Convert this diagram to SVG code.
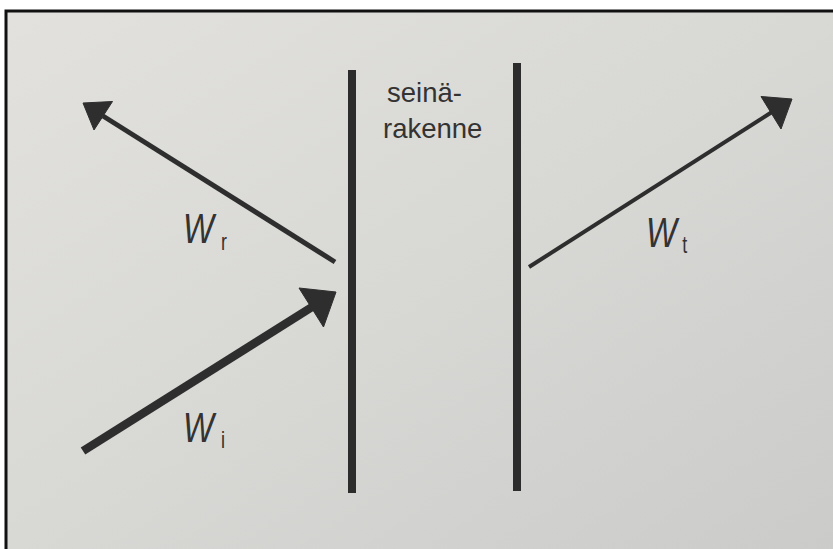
<svg xmlns="http://www.w3.org/2000/svg" width="833" height="549" viewBox="0 0 833 549">
  <defs>
    <linearGradient id="paper" x1="0" y1="0" x2="1" y2="1">
      <stop offset="0" stop-color="#e2e1de"/>
      <stop offset="0.5" stop-color="#d8d8d5"/>
      <stop offset="1" stop-color="#cbcbca"/>
    </linearGradient>
  </defs>
  <style>
    .wall { stroke: #2c2c2c; stroke-width: 8; fill: none; }
    .shaft { stroke: #2e2e2e; fill: none; stroke-linecap: butt; }
    .head { fill: #2e2e2e; stroke: #2e2e2e; stroke-width: 1; stroke-linejoin: round; }
    .lbl { font-family: "Liberation Sans", Arial, sans-serif; fill: #333333; }
    .w { font-size: 42px; font-style: italic; }
    .sub { font-size: 23px; font-style: normal; }
    .cap { font-size: 27.5px; }
  </style>
  <rect x="0" y="0" width="833" height="549" fill="#ffffff"/>
  <rect x="6" y="11" width="827" height="538" fill="url(#paper)"/>
  <path d="M6,549 V11 H833" fill="none" stroke="#111111" stroke-width="3"/>

  <g id="wall-left"><line class="wall" x1="352" y1="70" x2="352" y2="493"/></g>
  <g id="wall-right"><line class="wall" x1="517" y1="63" x2="517" y2="491"/></g>

  <g id="wall-label">
    <text class="lbl cap" x="387" y="102">seinä-</text>
    <text class="lbl cap" x="383" y="138">rakenne</text>
  </g>

  <g id="connectors">
    <g id="arrow-Wr">
      <line class="shaft" stroke-width="5" x1="335" y1="262" x2="103" y2="116"/>
      <polygon class="head" points="83,103 112.5,101.5 94,130"/>
    </g>
    <g id="arrow-Wi">
      <line class="shaft" stroke-width="8.5" x1="83" y1="451" x2="312" y2="307"/>
      <polygon class="head" points="336,292 299,288 323.5,327"/>
    </g>
    <g id="arrow-Wt">
      <line class="shaft" stroke-width="4" x1="529" y1="267" x2="772" y2="112"/>
      <polygon class="head" points="792,99 761,96.5 781,129"/>
    </g>
  </g>

  <g id="label-Wr">
    <text class="lbl w" transform="translate(183,243) scale(0.78,1)" x="0" y="0">W<tspan class="sub" dx="9" dy="7">r</tspan></text>
  </g>
  <g id="label-Wi">
    <text class="lbl w" transform="translate(183,442) scale(0.78,1)" x="0" y="0">W<tspan class="sub" dx="9" dy="6">i</tspan></text>
  </g>
  <g id="label-Wt">
    <text class="lbl w" transform="translate(646,247) scale(0.78,1)" x="0" y="0">W<tspan class="sub" dx="7" dy="6">t</tspan></text>
  </g>
</svg>
